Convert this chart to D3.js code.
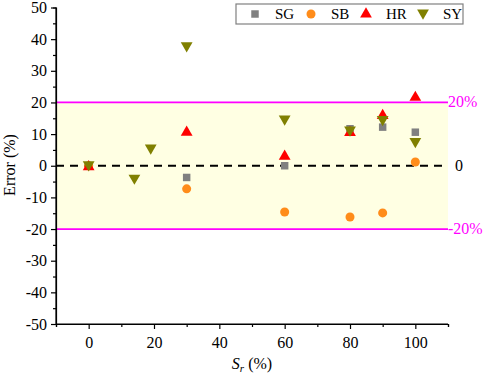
<!DOCTYPE html>
<html><head><meta charset="utf-8">
<script src="https://cdn.jsdelivr.net/npm/d3@7"></script>
<style>body{margin:0;background:#fff}svg text{font-family:"Liberation Serif","Times New Roman",serif}</style>
</head><body><svg id="c" width="484" height="375"></svg>
<script>
const sgX=[0,30,60,80,90,100], sgY=[0,-3.7,0,11.7,12.2,10.6];
const sbX=[0,30,60,80,90,100], sbY=[0,-7.3,-14.6,-16.2,-14.9,1.2];
const hrX=[0,30,60,80,90,100], hrY=[0,10.9,3.3,10.8,16.2,21.9];
const syX=[0,14,19,30,60,80,90,100], syY=[0,-4.2,5.3,37.6,14.5,11,14.3,7.4];
const xTicks=[0,20,40,60,80,100], yTicks=[-50,-40,-30,-20,-10,0,10,20,30,40,50];
const refLines=[{v:20,label:"20%"},{v:0,label:"0"},{v:-20,label:"-20%"}];
const legendNames=["SG","SB","HR","SY"];

const svg=d3.select("#c");
const x=d3.scaleLinear().domain([-10,110]).range([56,448]);
const y=d3.scaleLinear().domain([-50,50]).range([324,7.5]);

// band
svg.append("rect").attr("x",x(-10)).attr("y",y(20)).attr("width",x(110)-x(-10)).attr("height",y(-20)-y(20)).attr("fill","#ffffe3");

// ref lines
refLines.forEach(r=>{
  const isZero=r.v===0;
  svg.append("line").attr("x1",x(-10)).attr("x2",x(110)).attr("y1",y(r.v)).attr("y2",y(r.v))
    .attr("stroke",isZero?"#000":"#ff00ff").attr("stroke-width",1.8)
    .attr("stroke-dasharray",isZero?"8,6":null);
  svg.append("text").attr("x",isZero?455:448).attr("y",y(r.v)+5).text(r.label)
    .attr("fill",isZero?"#000":"#ff00ff").attr("font-size",16);
});

// axes
const fmt=d=>String(d);
const ax=svg.append("g").attr("transform",`translate(0,${y(-50)})`)
  .call(d3.axisBottom(x).tickValues(xTicks).tickSize(5).tickFormat(fmt));
const axm=svg.append("g").attr("transform",`translate(0,${y(-50)})`)
  .call(d3.axisBottom(x).tickValues([-10,10,30,50,70,90,110]).tickSize(3).tickFormat(""));
const ay=svg.append("g").attr("transform",`translate(${x(-10)},0)`)
  .call(d3.axisLeft(y).tickValues(yTicks).tickSize(5).tickFormat(fmt));
const aym=svg.append("g").attr("transform",`translate(${x(-10)},0)`)
  .call(d3.axisLeft(y).tickValues(d3.range(-45,50,10)).tickSize(3).tickFormat(""));
[ax,axm,ay,aym].forEach(g=>{g.attr("font-family",null);
  g.select(".domain").attr("stroke","#000").attr("stroke-width",1.2);
  g.selectAll(".tick line").attr("stroke","#000").attr("stroke-width",1.2);
  g.selectAll("text").attr("font-size",16).attr("fill","#000");});
ax.selectAll("text").attr("dy","1.0em");
ay.selectAll("text").attr("dx","-1px");
ax.select(".domain").attr("d",`M${x(-10)},0H${x(110)}`);
ay.select(".domain").attr("d",`M0,${y(-50)}V${y(50)}`);

// labels
svg.append("text").attr("transform","translate(15,165) rotate(-90)").attr("text-anchor","middle")
  .attr("font-size",16).text("Error (%)");
const xl=svg.append("text").attr("x",252).attr("y",369).attr("text-anchor","middle").attr("font-size",16);
xl.append("tspan").attr("font-style","italic").text("S");
xl.append("tspan").attr("font-style","italic").attr("font-size",11).attr("dy",3).text("r");
xl.append("tspan").attr("dy",-3).text(" (%)");

// markers
const sym={
  SG:{t:d3.symbolSquare,s:56,c:"#808080",rot:0},
  SB:{t:d3.symbolCircle,s:64,c:"#ff8c1a",rot:0},
  HR:{t:d3.symbolTriangle,s:60,c:"#ff0000",rot:0},
  SY:{t:d3.symbolTriangle,s:60,c:"#808000",rot:180}
};
const series=[["SG",sgX,sgY],["SB",sbX,sbY],["HR",hrX,hrY],["SY",syX,syY]];
series.forEach(([n,xs,ys])=>{
  const s=sym[n];
  svg.append("g").selectAll("path").data(xs.map((v,i)=>[v,ys[i]])).join("path")
    .attr("d",d3.symbol().type(s.t).size(s.s))
    .attr("transform",d=>`translate(${x(d[0])},${y(d[1])+(n==="HR"?1:n==="SY"?-1:0)}) rotate(${s.rot})`)
    .attr("fill",s.c);
});

// legend
const lg=svg.append("g");
lg.append("rect").attr("x",236).attr("y",4).attr("width",227).attr("height",20).attr("fill","#fff").attr("stroke","#808080").attr("stroke-width",1.2);
const lx=[255,311,366,423];
legendNames.forEach((n,i)=>{
  const s=sym[n];
  lg.append("path").attr("d",d3.symbol().type(s.t).size(s.s))
    .attr("transform",`translate(${lx[i]},${n==="SY"?13:14}) rotate(${s.rot})`).attr("fill",s.c);
  lg.append("text").attr("x",lx[i]+20).attr("y",19).attr("font-size",15).text(n);
});
</script></body></html>
